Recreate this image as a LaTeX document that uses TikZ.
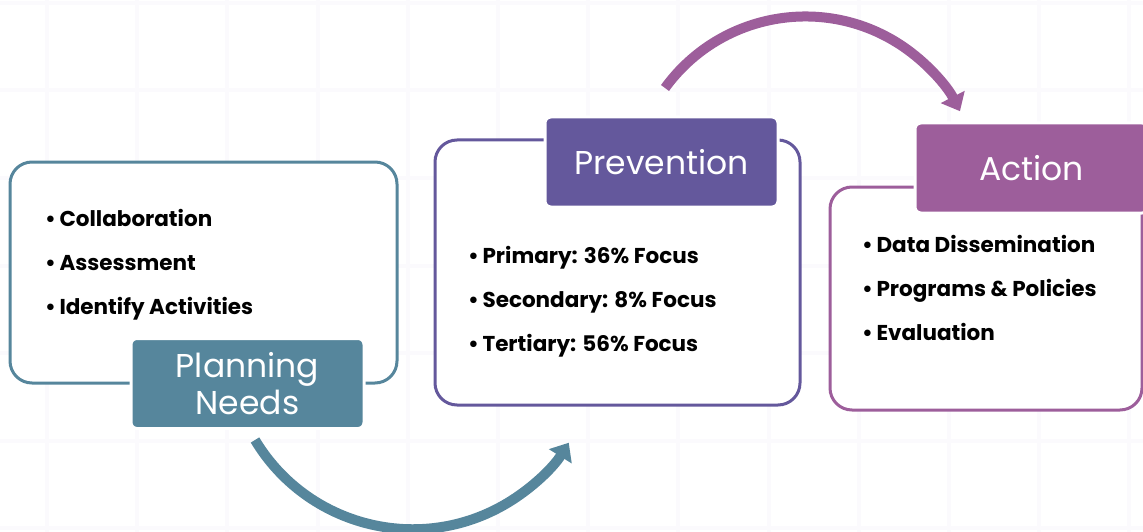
\documentclass[tikz,border=0pt]{standalone}
\usepackage{fontspec}
\setmainfont{Poppins}
\usetikzlibrary{arrows.meta}

\definecolor{plancol}{HTML}{56869C}
\definecolor{prevcol}{HTML}{64589C}
\definecolor{actcol}{HTML}{9D5E9B}
\definecolor{gridcol}{HTML}{FBFAFD}

\tikzset{
  outline/.style={draw=#1, line width=3pt, rounded corners=22pt, fill=white},
  tag/.style={fill=#1, draw=white, line width=3pt, rounded corners=6pt, text=white,
    minimum width=233pt, minimum height=90pt, align=center,
    font=\fontsize{33}{37}\selectfont},
  items/.style={anchor=north west, inner sep=0pt, align=left,
    font=\bfseries\fontsize{21.5}{44}\selectfont},
  turnarrow/.style={draw=#1, line width=10pt, -{Triangle[length=16pt,width=26pt]}}
}

\begin{document}
\begin{tikzpicture}[x=1pt,y=-1pt]
        \useasboundingbox (0,0) rectangle (1143,532);
        \clip (0,0) rectangle (1143,532);

        % Background grid
        \foreach \gx in {47,137.2,...,1143}
          \draw[gridcol, line width=4pt] (\gx,0) -- (\gx,532);
        \foreach \gy in {3,90.5,...,532}
          \draw[gridcol, line width=4pt] (0,\gy) -- (1143,\gy);

        % Define the boxes
        \node[outline=plancol, minimum width=387pt, minimum height=221pt] (plan) at (203.5,272.5) {};
        \node[outline=prevcol, minimum width=365pt, minimum height=265pt] (prev) at (617.5,272.5) {};
        \node[outline=actcol, minimum width=312pt, minimum height=223pt] (act) at (986,298.5) {};

        % Define the labels
        \node[tag=plancol] (plantag) at (247.5,383.5) {Planning\\Needs};
        \node[tag=prevcol] (prevtag) at (661.5,162) {Prevention};
        \node[tag=actcol] (acttag) at (1031.5,168) {Action};

        % Define the lists
        \node[items] (planlist) at (45,209) {•\,Collaboration\\•\,Assessment\\•\,Identify Activities};
        \node[items] (prevlist) at (468,246) {•\,Primary: 36\% Focus\\•\,Secondary: 8\% Focus\\•\,Tertiary: 56\% Focus};
        \node[items] (actlist) at (862,235) {•\,Data Dissemination\\•\,Programs \& Policies\\•\,Evaluation};

        % Draw the arrows
        \coordinate (lowstart) at (255,440);
        \coordinate (highstart) at (665,88);
        \draw[turnarrow=plancol] (lowstart) arc[start angle=149, end angle=32, radius=184];
        \draw[turnarrow=actcol] (highstart) arc[start angle=216, end angle=333, radius=173.5];
    \end{tikzpicture}
\end{document}
